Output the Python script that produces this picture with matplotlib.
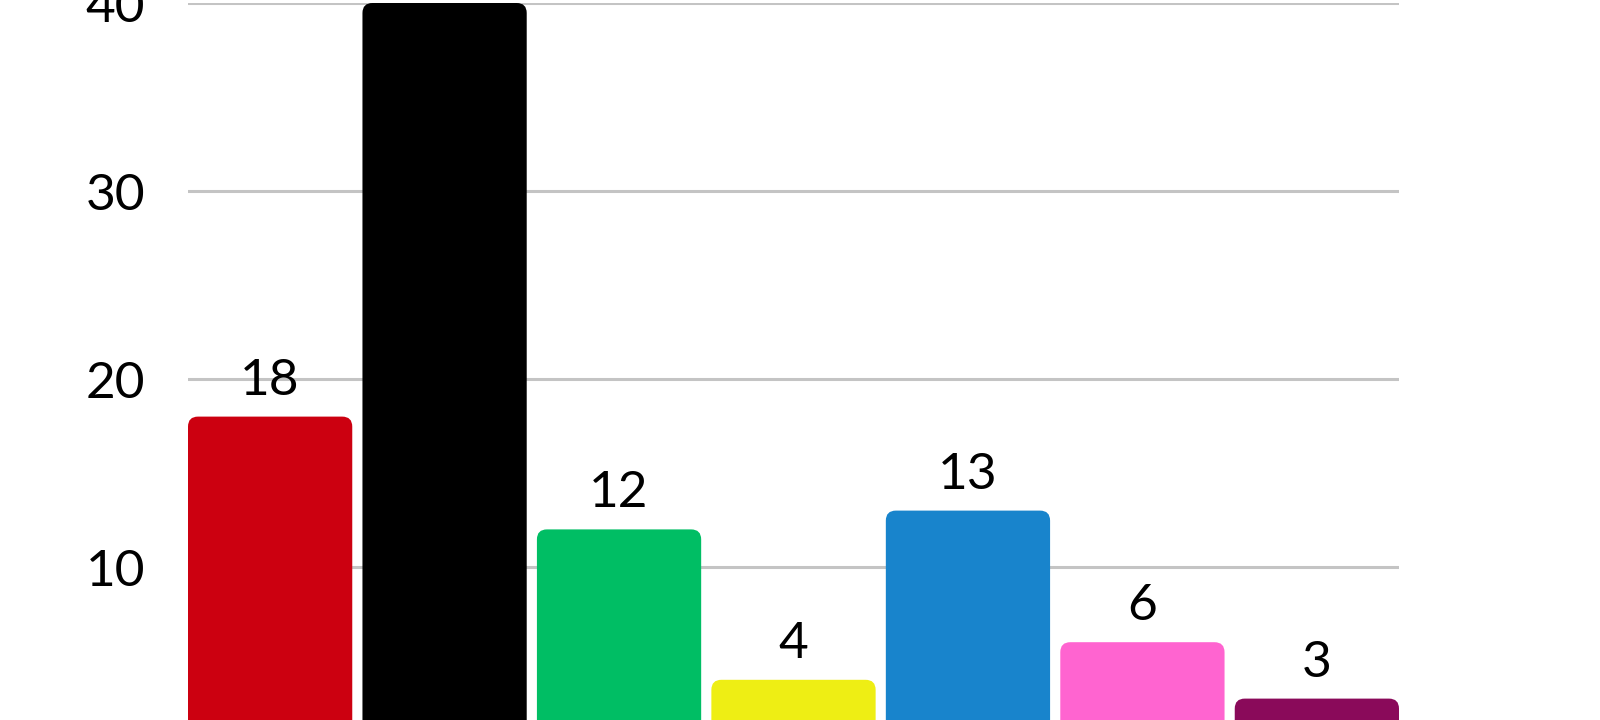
import matplotlib.pyplot as plt
from matplotlib.patches import FancyBboxPatch

plt.rcParams['font.family'] = ['Lato', 'DejaVu Sans']

# values
values = [18, 40, 12, 4, 13, 6, 3]
colors = ['#cc0010', '#000000', '#00be64', '#eeee14', '#1884cc', '#ff64d0', '#8a0a5a']
yticks = [10, 20, 30, 40]

W, H = 1600, 720
fig = plt.figure(figsize=(W / 100, H / 100), dpi=100)
# axes: value 0 sits just below the bottom edge of the image
left, right = 188, 1399
top_px, zero_px = 3, 755
ax = fig.add_axes([left / W, (H - zero_px) / H, (right - left) / W, (zero_px - top_px) / H])

width = 164.3 / 174.5
ax.set_xlim(-width / 2, len(values) - 1 + width / 2)
ax.set_ylim(0, 40)

px_x = (right - left) / (len(values) - 1 + width)  # pixels per x unit
px_y = (zero_px - top_px) / 40  # pixels per y unit
r = 10 / px_x
aspect = px_x / px_y

for i, (v, c) in enumerate(zip(values, colors)):
    patch = FancyBboxPatch((i - width / 2, -3), width, v + 3,
                           boxstyle=f"round,pad=0,rounding_size={r}",
                           mutation_aspect=aspect, facecolor=c, edgecolor='none', zorder=2)
    ax.add_patch(patch)
    ax.text(i, v + 22 / px_y, str(v), ha='center', va='baseline', fontsize=37, zorder=3)

ax.set_yticks(yticks)
ax.set_yticklabels([str(t) for t in yticks], fontsize=37)
ax.tick_params(axis='y', length=0, pad=31)
ax.set_xticks([])
ax.grid(axis='y', color='#c4c4c4', linewidth=2.2, zorder=0)
ax.set_axisbelow(True)
for s in ax.spines.values():
    s.set_visible(False)

fig.savefig('out.png', dpi=100)
